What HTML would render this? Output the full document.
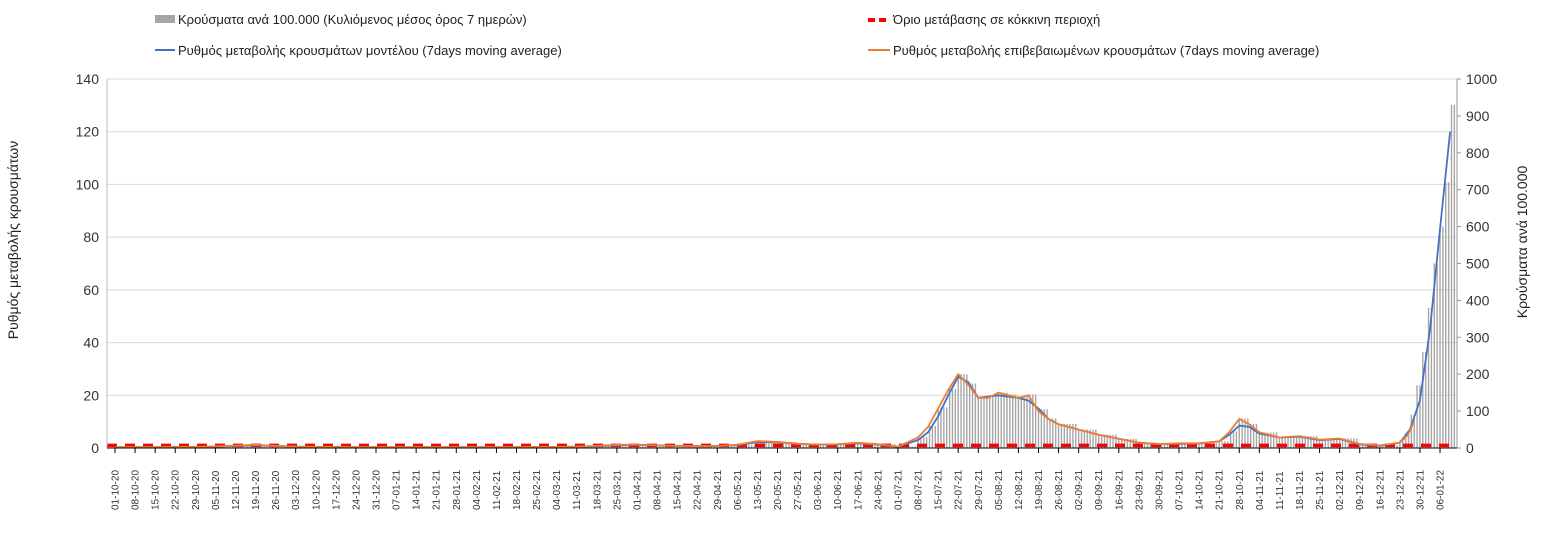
<!DOCTYPE html>
<html><head><meta charset="utf-8"><style>
body{margin:0;background:#fff;font-family:"Liberation Sans",sans-serif}
svg text{font-family:"Liberation Sans",sans-serif}
</style></head><body>
<svg id="c" width="1547" height="533" xmlns="http://www.w3.org/2000/svg">
<g font-size="13" fill="#222">
 <rect x="155" y="15" width="20" height="8" fill="#a6a6a6"/>
 <text x="178" y="24">Κρούσματα ανά 100.000 (Κυλιόμενος μέσος όρος 7 ημερών)</text>
 <line x1="868" y1="20" x2="890" y2="20" stroke="#ff0000" stroke-width="4" stroke-dasharray="7,4"/>
 <text x="893" y="24">Όριο μετάβασης σε κόκκινη περιοχή</text>
 <line x1="155" y1="50" x2="175" y2="50" stroke="#4472c4" stroke-width="2"/>
 <text x="178" y="55">Ρυθμός μεταβολής κρουσμάτων μοντέλου (7days moving average)</text>
 <line x1="868" y1="50" x2="890" y2="50" stroke="#ed7d31" stroke-width="2"/>
 <text x="893" y="55">Ρυθμός μεταβολής επιβεβαιωμένων κρουσμάτων (7days moving average)</text>
</g>
<text transform="translate(18,240) rotate(-90)" text-anchor="middle" font-size="14" fill="#222">Ρυθμός μεταβολής κρουσμάτων</text>
<text transform="translate(1527,242) rotate(-90)" text-anchor="middle" font-size="14" fill="#222">Κρούσματα ανά 100.000</text>
<g id="grid"></g><g id="bars"></g><g id="lines"></g><g id="axes"></g>
</svg>
<script>
const leftTicks=[0,20,40,60,80,100,120,140];
const rightTicks=[0,100,200,300,400,500,600,700,800,900,1000];
const dateLabels=["01-10-20","08-10-20","15-10-20","22-10-20","29-10-20","05-11-20","12-11-20","19-11-20","26-11-20","03-12-20","10-12-20","17-12-20","24-12-20","31-12-20","07-01-21","14-01-21","21-01-21","28-01-21","04-02-21","11-02-21","18-02-21","25-02-21","04-03-21","11-03-21","18-03-21","25-03-21","01-04-21","08-04-21","15-04-21","22-04-21","29-04-21","06-05-21","13-05-21","20-05-21","27-05-21","03-06-21","10-06-21","17-06-21","24-06-21","01-07-21","08-07-21","15-07-21","22-07-21","29-07-21","05-08-21","12-08-21","19-08-21","26-08-21","02-09-21","09-09-21","16-09-21","23-09-21","30-09-21","07-10-21","14-10-21","21-10-21","28-10-21","04-11-21","11-11-21","18-11-21","25-11-21","02-12-21","09-12-21","16-12-21","23-12-21","30-12-21","06-01-22"];
const threshold=1;
const orangeWeeks=[0,1,2,3,4,5,6,7,8,9,10,11,12,13,14,15,16,17,18,19,20,21,22,23,24,25,26,27,28,29,30,31,32,33,34,35,36,37,38,39,40,40.5,41,41.5,42,42.5,43,43.5,44,44.5,45,45.5,46,46.5,47,48,49,50,51,52,53,54,55,55.5,56,56.5,57,58,59,60,61,62,63,64,64.4,64.7];
const orangeVals=[0.3,0.3,0.3,0.4,0.4,0.6,0.9,1.2,0.8,0.5,0.4,0.4,0.3,0.3,0.3,0.3,0.3,0.3,0.3,0.3,0.3,0.4,0.4,0.5,0.8,1.2,1.3,1.0,0.8,0.7,0.8,1.2,2.6,2.3,1.6,1.3,1.4,2.0,1.4,0.5,4,8,15,22,28,24,19,19,21,20,19,20,14,11,9,7,5,3.5,2,1.5,1.8,1.8,2.5,6,11,9,6,4,4.5,3.2,3.6,1.5,1,2,5,10];
const blueWeeks=[0,1,2,3,4,5,6,7,8,9,10,11,12,13,14,15,16,17,18,19,20,21,22,23,24,25,26,27,28,29,30,31,32,33,34,35,36,37,38,39,40,40.5,41,41.5,42,42.5,43,44,45,45.5,46,46.5,47,48,49,50,51,52,53,54,55,55.5,56,56.5,57,58,59,60,61,62,63,64,64.5,65,65.5,66,66.5];
const blueVals=[0.3,0.3,0.3,0.4,0.4,0.5,0.8,1.0,0.8,0.5,0.4,0.4,0.3,0.3,0.3,0.3,0.3,0.3,0.3,0.3,0.3,0.4,0.4,0.5,0.7,1.0,1.2,1.0,0.8,0.7,0.8,1.1,2.2,2.2,1.6,1.3,1.4,1.8,1.3,0.5,3,6,12,20,27,25,19,20,19,18,15,11,9,7,5,3.5,2,1.5,1.6,1.7,2.5,5,8.5,8,5.5,4,4.3,3,3.4,1.4,0.8,2,7,18,45,83,120];
const barDays=[0,7,14,21,28,35,42,49,56,63,70,77,84,91,98,105,112,119,126,133,140,147,154,161,168,175,182,189,196,203,210,217,224,231,238,245,252,259,266,273,280,284,287,291,294,298,301,305,308,312,315,319,322,326,329,336,343,350,357,364,371,378,385,389,392,396,399,406,413,420,427,434,441,448,450,452,454,456,458,460,462,464,466];
const barVals=[3,3,3,3,3,5,7,9,6,4,3,3,2,2,2,2,2,2,2,2,2,3,3,4,6,9,10,8,6,5,6,9,18,16,11,9,10,14,10,4,30,60,110,160,200,175,140,140,150,145,140,145,105,80,65,50,36,25,14,11,13,13,18,45,80,65,42,30,32,23,26,11,8,20,40,90,170,260,380,500,600,720,930];
const NS="http://www.w3.org/2000/svg";
const X0=115,DX=20.076/7,Y0=448,PY=(448-79)/140;
const x=d=>X0+d*DX, yL=v=>Y0-v*PY, yR=v=>Y0-v*PY*140/1000;
function mk(t,a,p){const e=document.createElementNS(NS,t);for(const k in a)e.setAttribute(k,a[k]);p.appendChild(e);return e;}
const grid=document.getElementById('grid'),axes=document.getElementById('axes'),bars=document.getElementById('bars'),lines=document.getElementById('lines');
leftTicks.forEach(v=>{
 if(v>0){const g=mk('line',{x1:107,x2:1457,y1:yL(v),y2:yL(v),stroke:'#d9d9d9'},grid);
 
 }
 const t=mk('text',{x:99,y:yL(v)+5,'text-anchor':'end','font-size':14,fill:'#333'},axes);t.textContent=v;
 
 
});
rightTicks.forEach(v=>{
 const t=mk('text',{x:1466,y:yR(v)+5,'font-size':14,fill:'#333'},axes);t.textContent=v;
 
 
 mk('line',{x1:1457,x2:1461,y1:yR(v),y2:yR(v),stroke:'#999'},axes);
});
mk('line',{x1:107,x2:107,y1:79,y2:448,stroke:'#bbb'},axes);
mk('line',{x1:1457,x2:1457,y1:79,y2:448,stroke:'#999'},axes);
mk('line',{x1:107,x2:1457,y1:448,y2:448,stroke:'#000'},axes);
dateLabels.forEach((s,i)=>{
 const px=x(i*7);
 mk('line',{x1:px,x2:px,y1:448,y2:453,stroke:'#000'},axes);
 const t=mk('text',{transform:`translate(${px+3.5},510) rotate(-90)`,'font-size':10,fill:'#333'},axes);t.textContent=s;
 
 
});
for(let i=0;i<barDays.length;i++){
 const end=i+1<barDays.length?barDays[i+1]:barDays[i]+2;
 for(let d=barDays[i];d<end;d++){
  const b=mk('rect',{x:x(d)-0.7,y:yR(barVals[i]),width:1.4,height:Y0-yR(barVals[i]),fill:'#a6a6a6'},bars);
  
  
 }
}
const th=mk('line',{x1:107,x2:1457,y1:yL(threshold),y2:yL(threshold),stroke:'#ff0000','stroke-width':3.5,'stroke-dasharray':'10,8'},lines);


function path(ws,vs,col,name){
 const p=mk('path',{d:ws.map((w,i)=>(i?'L':'M')+x(w*7).toFixed(1)+','+yL(vs[i]).toFixed(1)).join(''),fill:'none',stroke:col,'stroke-width':1.8},lines);
 
 
}
path(blueWeeks,blueVals,'#4472c4','model-rate-line');
path(orangeWeeks,orangeVals,'#ed7d31','confirmed-rate-line');
</script>
</body></html>
